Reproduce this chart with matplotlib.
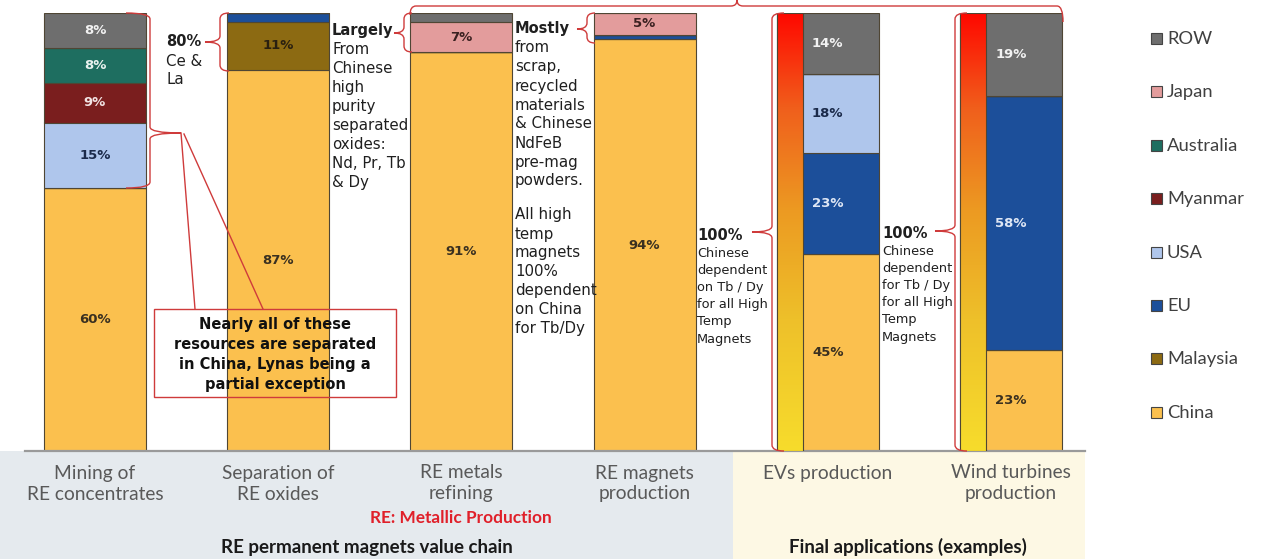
import numpy as np
import matplotlib
matplotlib.use("Agg")
import matplotlib.pyplot as plt
from matplotlib.patches import Rectangle, PathPatch
from matplotlib.path import Path
from matplotlib.colors import LinearSegmentedColormap

# stage names along the value chain
categories = [
    "Mining of\nRE concentrates",
    "Separation of\nRE oxides",
    "RE metals\nrefining",
    "RE magnets\nproduction",
    "EVs production",
    "Wind turbines\nproduction",
]

# shares (%) per country, one value per stage; stacked bottom -> top
countries = ["China", "Malaysia", "EU", "USA", "Myanmar", "Australia", "Japan", "ROW"]
china = [60, 87, 91, 94, 45, 23]
malaysia = [0, 11, 0, 0, 0, 0]
eu = [0, 2, 0, 1, 23, 58]
usa = [15, 0, 0, 0, 18, 0]
myanmar = [9, 0, 0, 0, 0, 0]
australia = [8, 0, 0, 0, 0, 0]
japan = [0, 0, 7, 5, 0, 0]
row = [8, 0, 2, 0, 14, 19]
shares = [china, malaysia, eu, usa, myanmar, australia, japan, row]

colors = ["#FBC04E", "#8C6A12", "#1C4F9A", "#AFC6EC", "#7A1E1E", "#1E6E60", "#E39C9C", "#6E6E6E"]
label_colors = ["#3a3020", "#2a2010", "#dfe7f5", "#1b2a4a", "#f2e4e4", "#e8f2ef", "#3a2020", "#f2f2f2"]

# stages with the "100% Chinese dependent" gradient strip
gradient_stages = [4, 5]

W, H = 1263, 559
fig = plt.figure(figsize=(W / 100, H / 100), dpi=100)

# background panel under the axis
bg = fig.add_axes([0, 0, 1, 1], zorder=0)
bg.set_xlim(0, W)
bg.set_ylim(H, 0)
bg.axis("off")
bg.add_patch(Rectangle((0, 451), 733, 108, facecolor="#E5EAEE", edgecolor="none"))
bg.add_patch(Rectangle((733, 451), 352, 108, facecolor="#FDF8E4", edgecolor="none"))

# main bar axes: stage centres 95 px apart by 183.2 px, 0-100% from y=451 to y=13
x_left, x_right, step, c0 = 25, 1085, 183.2, 95
ax = fig.add_axes([x_left / W, (H - 451) / H, (x_right - x_left) / W, (451 - 13) / H], zorder=1)
ax.patch.set_alpha(0)
for s in ["top", "right", "left"]:
    ax.spines[s].set_visible(False)
ax.spines["bottom"].set_color("#9a9a9a")
ax.spines["bottom"].set_linewidth(1.6)
ax.set_xticks([])
ax.set_yticks([])

x = np.arange(len(categories))
width = 0.557
bottom = np.zeros(len(categories))
for name, vals, col, lcol in zip(countries, shares, colors, label_colors):
    vals = np.array(vals, dtype=float)
    ax.bar(x, vals, width, bottom=bottom, color=col, edgecolor="#4f4634",
           linewidth=0.8, label=name, zorder=2)
    for i, v in enumerate(vals):
        if v >= 5:
            ax.text(x[i], bottom[i] + v / 2, f"{int(v)}%", ha="center", va="center",
                    fontsize=9.5, fontweight="bold", color=lcol, zorder=4)
    bottom += vals

# red -> yellow strips over the left edge of the application bars
grad = LinearSegmentedColormap.from_list(
    "dep", [(0, "#F7DC2C"), (0.3, "#EEC02A"), (0.55, "#EC9A22"), (0.78, "#F0601C"), (1, "#FF0800")])
gw = 26 / step
for i in gradient_stages:
    l = x[i] - width / 2
    ax.imshow(np.linspace(0, 1, 256).reshape(-1, 1), cmap=grad, origin="lower",
              extent=(l, l + gw, 0, 100), aspect="auto", zorder=3)
    ax.add_patch(Rectangle((l, 0), gw, 100, facecolor="none", edgecolor="#4f4634",
                           linewidth=0.8, zorder=3))
ax.set_xlim((x_left - c0) / step, (x_right - c0) / step)
ax.set_ylim(0, 100)

# overlay for annotations, in pixel units
oa = fig.add_axes([0, 0, 1, 1], zorder=2)
oa.patch.set_alpha(0)
oa.set_xlim(0, W)
oa.set_ylim(H, 0)
oa.axis("off")

RED = "#CF3B3B"


def vbrace(xs, y0, y1, ym, end_dx, tip_dx, r=6):
    verts = [(xs + end_dx, y0), (xs, y0), (xs, y0 + r), (xs, ym - r),
             (xs, ym), (xs + tip_dx, ym), (xs, ym), (xs, ym + r),
             (xs, y1 - r), (xs, y1), (xs + end_dx, y1)]
    codes = [Path.MOVETO, Path.CURVE3, Path.CURVE3, Path.LINETO,
             Path.CURVE3, Path.CURVE3, Path.CURVE3, Path.CURVE3,
             Path.LINETO, Path.CURVE3, Path.CURVE3]
    oa.add_patch(PathPatch(Path(verts, codes), facecolor="none", edgecolor=RED, lw=1))


def hbrace(ys, x0, x1, xm, dy0, dy1, tip_dy, r=6):
    verts = [(x0, ys + dy0), (x0, ys), (x0 + r, ys), (xm - r, ys),
             (xm, ys), (xm, ys + tip_dy), (xm, ys), (xm + r, ys),
             (x1 - r, ys), (x1, ys), (x1, ys + dy1)]
    codes = [Path.MOVETO, Path.CURVE3, Path.CURVE3, Path.LINETO,
             Path.CURVE3, Path.CURVE3, Path.CURVE3, Path.CURVE3,
             Path.LINETO, Path.CURVE3, Path.CURVE3]
    oa.add_patch(PathPatch(Path(verts, codes), facecolor="none", edgecolor=RED, lw=1))


vbrace(150, 13, 188, 133, -24, 31)
vbrace(220, 13, 71, 42, 9, -15)
vbrace(404, 13, 52, 33, 8, -10)
vbrace(587, 13, 43, 29, 8, -10)
vbrace(772, 13, 451, 232, 12, -20)
vbrace(955, 13, 451, 231, 12, -20)
hbrace(6, 410, 1063, 737, 9, 16, -6)

# callout box and wedge
oa.plot([181, 195], [133, 309], color=RED, lw=1)
oa.plot([184, 263], [134, 309], color=RED, lw=1)
oa.add_patch(Rectangle((154, 309), 242, 88, facecolor="none", edgecolor=RED, lw=1))
for t, yy in zip(["Nearly all of these", "resources are separated",
                  "in China, Lynas being a", "partial exception"], [324, 344, 364, 385]):
    oa.text(275, yy, t, ha="center", va="center", fontsize=10.5, fontweight="bold", color="#111111")


def note(x0, y0, lines, dy, size, bold_size, bold_first=True):
    for k, t in enumerate(lines):
        if t:
            head = bold_first and k == 0
            oa.text(x0, y0 + k * dy, t, ha="left", va="center", color="#1f1f1f",
                    fontsize=bold_size if head else size,
                    fontweight="bold" if head else "normal")


note(166, 42, ["80%", "Ce &", "La"], 19, 10.8, 10.5)
note(332, 31, ["Largely", "From", "Chinese", "high", "purity", "separated", "oxides:",
               "Nd, Pr, Tb", "& Dy"], 18.9, 10.8, 10.5)
note(515, 29, ["Mostly", "from", "scrap,", "recycled", "materials", "& Chinese", "NdFeB",
               "pre-mag", "powders."], 19, 10.8, 10.5)
note(515, 215, ["All high", "temp", "magnets", "100%", "dependent", "on China", "for Tb/Dy"],
     19, 10.8, 10.5, bold_first=False)
note(697, 236, ["100%", "Chinese", "dependent", "on Tb / Dy", "for all High", "Temp", "Magnets"],
     17.2, 9.3, 10.5)
note(882, 234, ["100%", "Chinese", "dependent", "for Tb / Dy", "for all High", "Temp", "Magnets"],
     17.2, 9.3, 10.5)

# stage labels
for i, c in enumerate(categories):
    for k, t in enumerate(c.split("\n")):
        oa.text(c0 + step * i, 473 + k * 21, t, ha="center", va="center",
                fontsize=13.8, color="#595959", family="Lato")

oa.text(461, 518, "RE: Metallic Production", ha="center", va="center", fontsize=12.4,
        fontweight="bold", color="#E0202A", family="Lato")
oa.text(367, 547, "RE permanent magnets value chain", ha="center", va="center", fontsize=13.5,
        fontweight="bold", color="#1a1a1a", family="Lato")
oa.text(908, 547, "Final applications (examples)", ha="center", va="center", fontsize=13.5,
        fontweight="bold", color="#1a1a1a", family="Lato")

# legend, top to bottom = reverse stacking order
for k, (name, col) in enumerate(zip(countries[::-1], colors[::-1])):
    yy = 39 + k * 53.4
    oa.add_patch(Rectangle((1151, yy - 6), 11, 11, facecolor=col, edgecolor="#444444", lw=0.8))
    oa.text(1167, yy, name, ha="left", va="center", fontsize=13.2, color="#404040", family="Lato")

fig.savefig("out.png", dpi=100)
